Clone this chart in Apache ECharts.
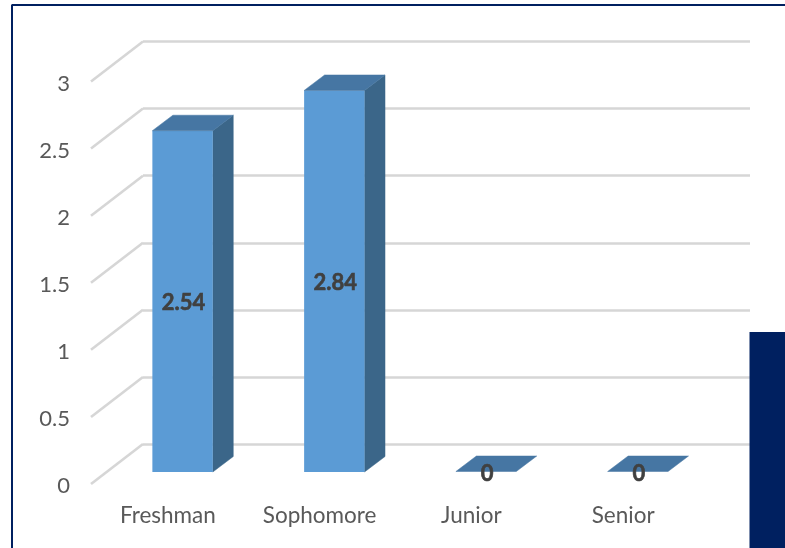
<!DOCTYPE html>
<html>
<head>
<meta charset="utf-8">
<style>html,body{margin:0;padding:0;background:#fff}#c{width:785px;height:548px}</style>
<script src="https://cdn.jsdelivr.net/npm/echarts@6/dist/echarts.min.js"></script>
</head>
<body>
<div id="c"></div>
<script>
var categories = ['Freshman', 'Sophomore', 'Junior', 'Senior'];
var gpa = [2.54, 2.84, 0, 0];
var yTicks = [0, 0.5, 1, 1.5, 2, 2.5, 3];

var FONT = 'Lato, "Open Sans", sans-serif';
var chart = echarts.init(document.getElementById('c'), null, {renderer: 'canvas'});

function renderBar(params, api) {
  var idx = api.value(0), val = api.value(1);
  var base = api.coord([idx, 0]), top = api.coord([idx, val]);
  var band = api.size([1, 0])[0];
  var w = band * 0.398, ox = 15.7, oy = -12, dx = 20.5, dy = -15.5;
  var l = base[0] + ox - w / 2, r = l + w, b = base[1] + oy, t = top[1] + oy - 0.5;
  var children = [];
  if (val > 0) {
    children.push({type: 'polygon', shape: {points: [[r, t], [r + dx, t + dy], [r + dx, b + dy], [r, b]]},
      style: {fill: '#3B6689', stroke: '#3B6689', lineWidth: 0.5}});
    children.push({type: 'rect', shape: {x: l, y: t, width: w, height: b - t},
      style: {fill: '#5B9BD5'}});
  }
  children.push({type: 'polygon', shape: {points: [[l, t], [l + dx, t + dy], [r + dx, t + dy], [r, t]]},
    style: {fill: '#4676A3', stroke: '#4676A3', lineWidth: 0.5}});
  children.push({type: 'text', style: {
    text: String(val), x: (l + r) / 2 + 1, y: val > 0 ? (t + b) / 2 + 1.5 : b + 2,
    align: 'center', verticalAlign: 'middle', fill: '#404040', fontSize: 22, fontWeight: 'bold', fontFamily: FONT,
    stroke: '#404040', lineWidth: 0.6}});
  return {type: 'group', children: children};
}

function renderDiagonal(params, api) {
  var p = api.coord([0, api.value(1)]);
  var x = p[0] - api.size([1, 0])[0] / 2;
  return {type: 'line', shape: {x1: x, y1: p[1], x2: x + 52, y2: p[1] - 40},
    style: {stroke: '#D6D6D6', lineWidth: 2.6}};
}

chart.setOption({
  animation: false,
  backgroundColor: '#fff',
  graphic: [
    {type: 'line', z: 0, shape: {x1: 11.5, y1: 5, x2: 785, y2: 5}, style: {stroke: '#002060', lineWidth: 2}},
    {type: 'line', z: 0, shape: {x1: 12, y1: 5, x2: 12, y2: 548}, style: {stroke: '#002060', lineWidth: 2}},
    {type: 'rect', z: 100, shape: {x: 749.5, y: 332, width: 36, height: 216}, style: {fill: '#002060'}}
  ],
  grid: [
    {left: 91, top: 81.5, width: 607, height: 402.5},
    {left: 143, top: 41.5, width: 607, height: 402.5}
  ],
  xAxis: [
    {type: 'category', gridIndex: 0, data: categories, axisLine: {show: false}, axisTick: {show: false},
      axisLabel: {color: '#595959', fontSize: 22.5, fontFamily: FONT, margin: 20, padding: [0, 0, 0, 2]}},
    {type: 'category', gridIndex: 1, data: categories, axisLine: {show: false}, axisTick: {show: false},
      axisLabel: {show: false}}
  ],
  yAxis: [
    {type: 'value', gridIndex: 0, min: 0, max: 3, interval: 0.5, axisLine: {show: false}, axisTick: {show: false},
      splitLine: {show: false},
      axisLabel: {color: '#595959', fontSize: 22, fontFamily: FONT, margin: 21, verticalAlign: 'top', lineHeight: 4}},
    {type: 'value', gridIndex: 1, min: 0, max: 3, interval: 0.5, axisLine: {show: false}, axisTick: {show: false},
      axisLabel: {show: false},
      splitLine: {show: true, lineStyle: {color: '#D6D6D6', width: 2.6}}}
  ],
  series: [
    {type: 'custom', xAxisIndex: 0, yAxisIndex: 0, z: 2, clip: false, silent: true,
      renderItem: renderDiagonal,
      data: yTicks.map(function (v) { return [0, v]; })},
    {type: 'custom', name: 'GPA', xAxisIndex: 0, yAxisIndex: 0, z: 3, clip: false, silent: true,
      renderItem: renderBar,
      data: gpa.map(function (v, i) { return [i, v]; })}
  ]
});
</script>
</body>
</html>
